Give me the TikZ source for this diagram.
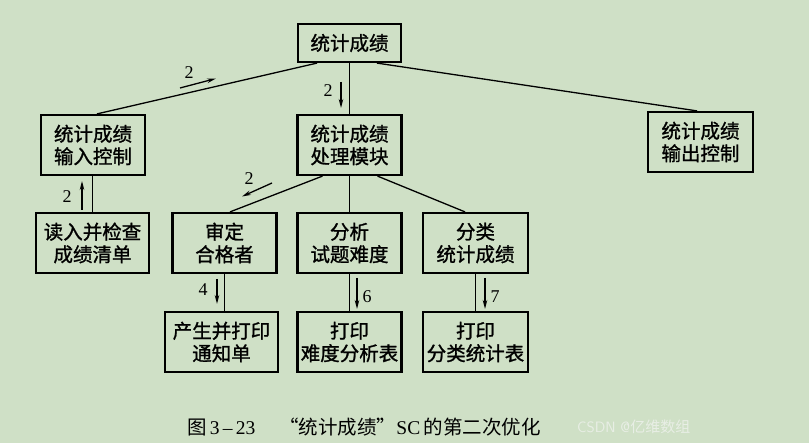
\documentclass[tikz,border=0pt]{standalone}
\usepackage{fontspec}
\setmainfont{Liberation Serif}
\newfontfamily\cjk[FakeBold=1.2]{Noto Sans CJK SC}
\newfontfamily\cjkcap{Noto Sans CJK SC}
\usetikzlibrary{arrows.meta,calc}
\definecolor{bg}{RGB}{207,224,198}
\definecolor{wm}{RGB}{232,238,229}
\tikzset{
  box/.style={draw=black, line width=2.2pt, rectangle, inner sep=0pt,
    minimum width=104pt, minimum height=60pt, align=center,
    font=\cjk\fontsize{19.5}{22.5}\selectfont},
  conn/.style={line width=1.3pt},
  flow/.style={line width=1.3pt, -{Stealth[length=9pt,width=4.5pt]}},
  num/.style={font=\fontsize{18}{18}\selectfont, inner sep=0pt}
}
\begin{document}
\begin{tikzpicture}[x=1pt,y=-1pt]
\fill[bg] (0,0) rectangle (809,443);
\useasboundingbox (0,0) rectangle (809,443);

\node[box, minimum height=38pt, minimum width=103pt] (top) at (349.5,43) {统计成绩};
\node[box] (inL) at (93,145) {统计成绩\\输入控制};
\node[box] (proc) at (349.5,145) {统计成绩\\处理模块};
\node[box, minimum width=105pt] (outR) at (700.5,142) {统计成绩\\输出控制};
\node[box, minimum width=113pt] (read) at (92.5,243) {读入并检查\\成绩清单};
\node[box] (shen) at (224.5,243) {审定\\合格者};
\node[box] (fenxi) at (349.5,243) {分析\\试题难度};
\node[box, minimum width=105pt] (fenlei) at (475.5,243) {分类\\统计成绩};
\node[box, minimum width=113pt] (chan) at (221.5,342) {产生并打印\\通知单};
\node[box] (dy1) at (349.5,342) {打印\\难度分析表};
\node[box, minimum width=105pt] (dy2) at (475.5,342) {打印\\分类统计表};

% connectors
\draw[conn] ($(top.south)+(-32.5,0)$) -- ($(inL.north)+(4,0)$);
\draw[conn] (top.south) -- (proc.north);
\draw[conn] ($(top.south)+(27.5,0)$) -- ($(outR.north)+(-3.5,0)$);
\draw[conn] ($(proc.south)+(-27,0)$) -- ($(shen.north)+(5.5,0)$);
\draw[conn] (proc.south) -- (fenxi.north);
\draw[conn] ($(proc.south)+(28,0)$) -- ($(fenlei.north)+(-10.5,0)$);
\draw[conn] (read.north) -- (read.north |- inL.south);
\draw[conn] (shen.south) -- (shen.south |- chan.north);
\draw[conn] (fenxi.south) -- (dy1.north);
\draw[conn] (fenlei.south) -- (dy2.north);

% flow annotations
\coordinate (f1a) at (180,88); \coordinate (f1b) at (216,78.5);
\draw[flow] (f1a) -- (f1b);
\node[num] (n1) at (189,73) {2};

\coordinate (f2a) at (341,82); \coordinate (f2b) at (341,108);
\draw[flow] (f2a) -- (f2b);
\node[num] (n2) at (328,91) {2};

\coordinate (f3a) at (272,183); \coordinate (f3b) at (242,196.5);
\draw[flow] (f3a) -- (f3b);
\node[num] (n3) at (249,179) {2};

\coordinate (f4a) at (82,210); \coordinate (f4b) at (82,181);
\draw[flow] (f4a) -- (f4b);
\node[num] (n4) at (67,197) {2};

\coordinate (f5a) at (217,279); \coordinate (f5b) at (217,304);
\draw[flow] (f5a) -- (f5b);
\node[num] (n5) at (203,290) {4};

\coordinate (f6a) at (357,278); \coordinate (f6b) at (357,309);
\draw[flow] (f6a) -- (f6b);
\node[num] (n6) at (367,297) {6};

\coordinate (f7a) at (485,278); \coordinate (f7b) at (485,309);
\draw[flow] (f7a) -- (f7b);
\node[num] (n7) at (495,297) {7};

% caption
\node[anchor=west, inner sep=0pt, font=\fontsize{19.5}{19.5}\selectfont] (cap) at (187,427)
  {{\cjkcap 图}\,3\,–\,23\hspace{24pt}{\cjkcap “统计成绩”}SC\,{\cjkcap 的第二次优化}};
\node[anchor=west, inner sep=0pt, text=wm, font=\sffamily\fontsize{15}{15}\selectfont] (wmk) at (577,427)
  {CSDN @{\cjkcap 亿维数组}};
\end{tikzpicture}
\end{document}
